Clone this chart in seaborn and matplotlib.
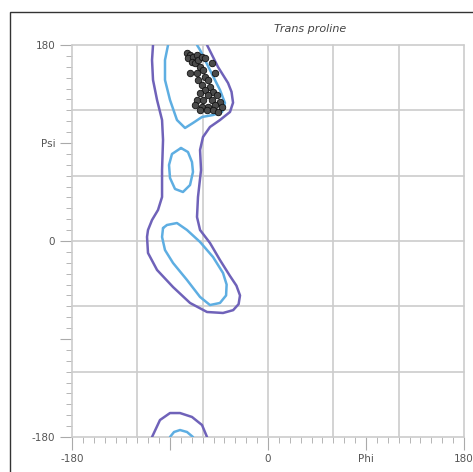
import matplotlib
matplotlib.use("Agg")
import matplotlib.pyplot as plt
import matplotlib.patches as patches
import numpy as np
import pandas as pd
import seaborn as sns

# outer (purple) contour: phi, psi in degrees
outer_phi = [-105.6, -106.5, -105.6, -101.9, -97.3, -96.4, -97.3, -97.3, -101.0, -106.5,
             -110.2, -111.1, -110.2, -101.9, -87.2, -71.6, -56.0, -41.3, -32.0, -27.0,
             -25.7, -29.0, -35.0, -44.1, -53.3, -62.4, -65.2, -64.3, -61.5, -62.4,
             -59.7, -53.3, -44.1, -34.9, -32.1, -33.5, -36.7, -45.9, -56.0]
outer_psi = [180, 166.2, 147.9, 129.5, 111.1, 92.8, 65.2, 40.4, 28.5, 19.3,
             10.1, 3.7, -11.0, -26.6, -42.3, -56.9, -65.2, -66.1, -63.5, -58.0,
             -50.0, -41.0, -32.0, -17.5, -1.8, 10.1, 22.0, 40.4, 65.2, 83.6,
             95.5, 104.7, 111.1, 118.5, 127.0, 137.0, 145.1, 159.8, 180]
outer_bot_phi = [-106.5, -99.2, -90.0, -80.8, -69.8, -60.6, -56.0]
outer_bot_psi = [-180, -164.4, -158.0, -158.0, -161.6, -169.0, -180]

# inner (light blue) contours
inner_top_phi = [-91.8, -94.6, -94.6, -90.0, -83.6, -76.2, -68.9, -60.6, -50.5, -42.2,
                 -39.5, -44.1, -53.3, -62.4, -65.2]
inner_top_psi = [180, 166.2, 147.9, 129.5, 111.1, 103.8, 108.4, 113.9, 115.7, 118.5,
                 126.7, 138.7, 157.0, 175.4, 180]
inner_bot_phi = [-90.0, -86.3, -80.8, -74.4, -68.9]
inner_bot_psi = [-180, -175.4, -173.6, -175.4, -180]
inner_mid_phi = [-79.9, -73.5, -69.8, -68.9, -71.6, -78.1, -85.4, -90.0, -90.9, -88.2, -79.9]
inner_mid_psi = [85.4, 81.7, 72.5, 63.4, 51.4, 45.0, 47.8, 57.9, 69.8, 79.9, 85.4]
inner_low_phi = [-96.4, -92.8, -83.6, -74.4, -62.4, -50.5, -41.3, -38.0, -38.5, -44.1,
                 -53.3, -62.4, -74.4, -87.2, -94.6, -97.3, -96.4]
inner_low_psi = [11.9, 14.7, 16.5, 10.1, -0.9, -14.7, -29.4, -40.0, -50.0, -56.9,
                 -58.8, -51.4, -35.8, -20.2, -8.3, 3.7, 11.9]

# observed residues
res_phi = [-74.7, -71.6, -73.2, -68.6, -65.5, -70.1, -67.0, -64.0, -60.9, -57.9,
           -51.7, -62.4, -59.4, -65.5, -71.6, -48.7, -57.9, -64.0, -54.8, -60.9,
           -53.3, -57.9, -50.2, -62.4, -54.8, -47.1, -65.5, -59.4, -51.7, -44.1,
           -67.0, -60.9, -54.8, -48.7, -42.6, -62.4, -56.3, -50.2, -45.6]
res_psi = [172.3, 170.8, 167.8, 169.3, 170.8, 164.7, 163.2, 166.2, 169.3, 167.8,
           163.2, 160.1, 157.0, 154.0, 154.0, 154.0, 150.9, 147.9, 147.9, 143.3,
           141.7, 138.7, 137.2, 135.6, 134.1, 134.1, 129.5, 129.5, 129.5, 128.0,
           124.9, 123.4, 123.4, 124.9, 123.4, 120.3, 120.3, 120.3, 118.8]

sns.set_theme(style="white")

fig = plt.figure(figsize=(4.73, 4.72), dpi=100)
ax = fig.add_axes([72 / 473, 35 / 472, 392 / 473, 392 / 472])

purple = "#6f62b9"
blue = "#5eaee2"
lw = 1.8

ax.plot(outer_phi, outer_psi, color=purple, lw=lw, solid_joinstyle="round", zorder=3)
ax.plot(outer_bot_phi, outer_bot_psi, color=purple, lw=lw, solid_joinstyle="round", zorder=3)
for xs, ys in [(inner_top_phi, inner_top_psi), (inner_bot_phi, inner_bot_psi),
               (inner_mid_phi, inner_mid_psi), (inner_low_phi, inner_low_psi)]:
    ax.plot(xs, ys, color=blue, lw=lw, solid_joinstyle="round", zorder=3)

df = pd.DataFrame({"phi": res_phi, "psi": res_psi})
sns.scatterplot(data=df, x="phi", y="psi", ax=ax, s=22, color="#4a4a4a",
                edgecolor="#111111", linewidth=0.6, zorder=4)

ax.set_xlim(-180, 180)
ax.set_ylim(-180, 180)
grid = np.arange(-180, 181, 60)
for g in grid:
    ax.axvline(g, color="#cccccc", lw=1.2, zorder=1, clip_on=False)
    ax.axhline(g, color="#cccccc", lw=1.2, zorder=1, clip_on=False)
for s in ax.spines.values():
    s.set_visible(False)

ax.set_xticks([-180, -90, 0, 90, 180])
ax.set_xticklabels(["-180", "", "0", "Phi", "180"])
ax.set_yticks([-180, -90, 0, 90, 180])
ax.set_yticklabels(["-180", "", "0", "Psi", "180"])
ax.set_xticks(np.arange(-180, 181, 10), minor=True)
ax.set_yticks(np.arange(-180, 181, 10), minor=True)
ax.tick_params(which="major", length=9, width=0.8, color="#aaaaaa",
               labelsize=7.5, labelcolor="#555555", pad=3,
               bottom=True, left=True)
ax.tick_params(which="minor", length=4, width=0.6, color="#aaaaaa",
               bottom=True, left=True)
ax.set_xlabel("")
ax.set_ylabel("")

fig.text(310 / 473, 1 - 29 / 472, "Trans proline", fontsize=8, style="italic",
         color="#444444", ha="center", va="center")

fig.add_artist(patches.Rectangle((10 / 473, -0.1), 1.2, 1.1 - 12 / 472,
                                 transform=fig.transFigure, fill=False,
                                 edgecolor="#333333", lw=1.0))

fig.savefig("out.png", dpi=100)
